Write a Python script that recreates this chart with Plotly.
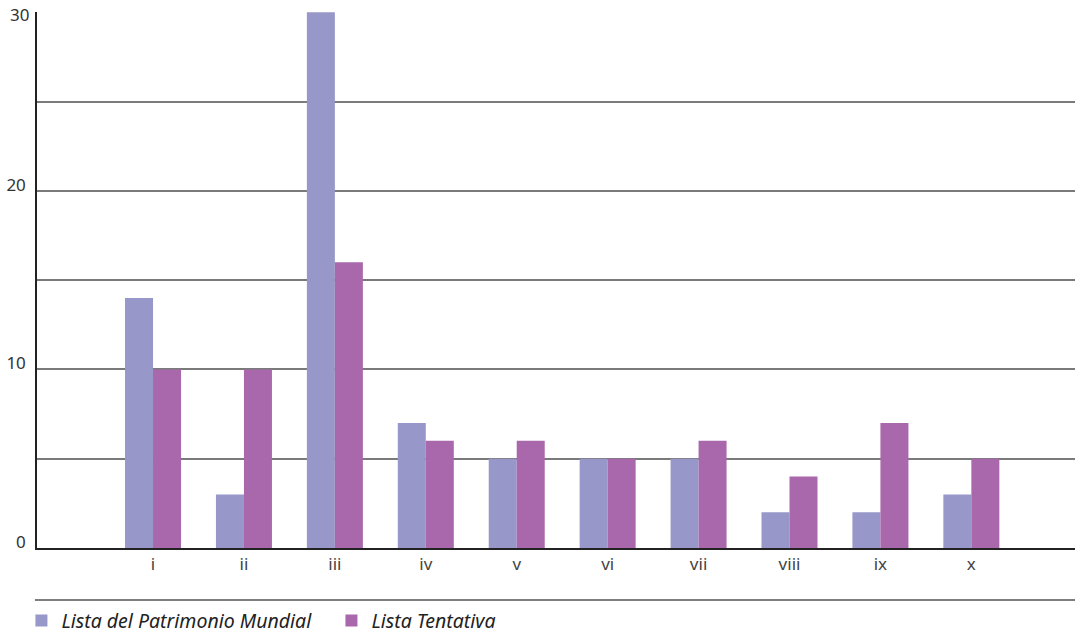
import plotly.graph_objects as go

categories = ["i", "ii", "iii", "iv", "v", "vi", "vii", "viii", "ix", "x"]
patrimonio = [14, 3, 30, 7, 5, 5, 5, 2, 2, 3]
tentativa = [10, 10, 16, 6, 6, 5, 6, 4, 7, 5]
ytick_vals = [0, 5, 10, 15, 20, 25, 30]
ytick_text = ["0", "", "10", "", "20", "", ""]
top_label = "30"

FONT = "Noto Sans"

fig = go.Figure()
fig.add_trace(go.Bar(x=categories, y=patrimonio, name="Lista del Patrimonio Mundial",
                     marker=dict(color="#9797C9", line=dict(width=0))))
fig.add_trace(go.Bar(x=categories, y=tentativa, name="Lista Tentativa",
                     marker=dict(color="#AA68AC", line=dict(width=0))))

fig.update_layout(
    width=1075, height=635,
    margin=dict(l=37, r=0, t=12, b=87, autoexpand=False),
    paper_bgcolor="white", plot_bgcolor="white",
    barmode="group", bargap=0.384, bargroupgap=0,
    font=dict(family=FONT, size=17, color="#333333"),
    showlegend=True,
    legend=dict(orientation="h", x=-0.015, xanchor="left", y=-0.136, yanchor="middle",
                font=dict(family=FONT, size=19.5, color="#222222", style="italic"),
                itemwidth=30, entrywidth=265, entrywidthmode="pixels",
                bgcolor="rgba(0,0,0,0)", tracegroupgap=0),
    xaxis=dict(type="category", range=[-1.276, 10.14], showgrid=False,
               showline=True, linecolor="#222222", linewidth=1.5,
               ticks="", tickfont=dict(family=FONT, size=17, color="#444444"),
               ticklabelstandoff=0, zeroline=False),
    yaxis=dict(range=[0, 30.02], tickvals=ytick_vals, ticktext=ytick_text,
               showgrid=True, gridcolor="#7a7a7a", gridwidth=1.5,
               showline=True, linecolor="#222222", linewidth=1.5,
               ticks="", tickfont=dict(family=FONT, size=17, color="#333333"),
               ticklabelstandoff=6, ticklabelshift=-6, zeroline=False),
    shapes=[dict(type="line", xref="paper", yref="paper", x0=-0.002, x1=1, y0=-0.097, y1=-0.097,
                 line=dict(color="#555555", width=1.5))],
    annotations=[dict(text=top_label, xref="paper", yref="y", x=0, y=ytick_vals[-1],
                      xanchor="right", yanchor="middle", xshift=-6, yshift=-2, showarrow=False,
                      font=dict(family=FONT, size=17, color="#333333"))],
)

fig.write_html("out.html")
